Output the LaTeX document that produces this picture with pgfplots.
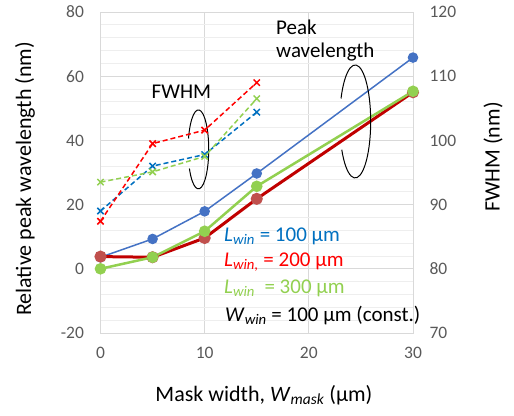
\documentclass[border=0pt]{standalone}
\usepackage{fontspec}
\setmainfont{Carlito}
\usepackage{pgfplots}
\pgfplotsset{compat=1.18}
\definecolor{tickgray}{HTML}{595959}
\definecolor{gridgray}{HTML}{D9D9D9}
\definecolor{minorgray}{HTML}{EEEEEE}
\definecolor{pblue}{HTML}{4472C4}
\definecolor{dblue}{HTML}{0070C0}
\definecolor{pred}{HTML}{C00000}
\definecolor{predm}{HTML}{C0504D}
\definecolor{dred}{HTML}{FF0000}
\definecolor{pgreen}{HTML}{92D050}
\newcommand{\sub}[1]{\textsubscript{\textit{#1}}}
\begin{document}
\begin{tikzpicture}[x=1pt,y=1pt]
\useasboundingbox (0,0) rectangle (514,415);
\pgfplotsset{
  common/.style={
    at={(100.5pt,82pt)}, anchor=south west, scale only axis,
    width=312.5pt, height=321pt,
    xmin=0, xmax=30, clip=false,
    tick style={draw=none},
    ticklabel style={font=\fontsize{17.5}{17.5}\selectfont, text=tickgray},
    /pgf/number format/assume math mode=true,
    label style={font=\fontsize{22}{22}\selectfont},
  }
}
\begin{axis}[common,
  ymin=-20, ymax=80,
  xtick={0,10,20,30}, ytick={-20,0,...,80},
  minor ytick={-16,-12,...,76},
  grid=both,
  major grid style={gridgray, line width=0.8pt},
  minor grid style={minorgray, line width=0.8pt},
  axis line style={gridgray, line width=0.8pt},
  yticklabel style={xshift=-13pt},
  xticklabel style={yshift=-11pt},
  xlabel={Mask width, \textit{W}\sub{mask} (µm)},
  xlabel style={at={(axis description cs:0.523,-0.193)}, anchor=center},
  ylabel={Relative peak wavelength (nm)},
  ylabel style={at={(axis description cs:-0.2416,0.48)}, anchor=center},
]
\addplot[pblue, line width=1.5pt, mark=*, mark size=4.5pt, mark options={fill=pblue, draw=pblue}]
  coordinates {(0,3.6) (5,9.3) (10,17.9) (15,29.7) (30,65.8)};
\addplot[pred, line width=3pt, mark=*, mark size=4.5pt, mark options={fill=predm, draw=predm}]
  coordinates {(0,3.8) (5,3.6) (10,9.6) (15,21.8) (30,55)};
\addplot[pgreen, line width=2.5pt, mark=*, mark size=4.5pt, mark options={fill=pgreen, draw=pgreen}]
  coordinates {(0,0) (5,3.6) (10,11.7) (15,25.7) (30,55.3)};

\draw[black, line width=1pt] ([shift={(209:10.3pt and 39.5pt)}]axis cs:9.4,37.2)
   arc[start angle=209, end angle=524, x radius=10.3pt, y radius=39.5pt];
\draw[black, line width=1pt] ([shift={(210:15.5pt and 56.5pt)}]axis cs:24.45,45.9)
   arc[start angle=210, end angle=516, x radius=15.5pt, y radius=56.5pt];

\node[anchor=west, inner sep=0pt, font=\fontsize{21}{21}\selectfont] at (axis cs:4.9,55.1) {FWHM};
\node[anchor=west, inner sep=0pt, font=\fontsize{21}{21}\selectfont] at (axis cs:16.85,75.3) {Peak};
\node[anchor=west, inner sep=0pt, font=\fontsize{21}{21}\selectfont] at (axis cs:16.85,67.5) {wavelength};

\node[anchor=west, inner sep=0pt, text=dblue, font=\fontsize{21}{21}\selectfont] at (axis cs:11.86,10.2) {\textit{L}\sub{win} = 100 µm};
\node[anchor=west, inner sep=0pt, text=dred, font=\fontsize{21}{21}\selectfont] at (axis cs:11.86,2.1) {\textit{L}\sub{win,} = 200 µm};
\node[anchor=west, inner sep=0pt, text=pgreen, font=\fontsize{21}{21}\selectfont] at (axis cs:11.86,-6.0) {\textit{L}\sub{win}\ \ = 300 µm};
\node[anchor=west, inner sep=0pt, text=black, font=\fontsize{21}{21}\selectfont] at (axis cs:11.95,-14.4) {\textit{W}\sub{win} = 100 µm (const.)};
\end{axis}

\begin{axis}[common,
  ymin=70, ymax=120,
  axis x line=none,
  axis y line*=right,
  axis line style={draw=none},
  ytick={70,80,...,120},
  yticklabel style={xshift=13pt},
  ylabel={FWHM (nm)},
  ylabel style={at={(axis description cs:1.256,0.548)}, anchor=center},
]
\addplot[dblue, line width=1.5pt, dash pattern=on 5pt off 3pt, mark=x, mark size=4.5pt, mark options={solid, line width=1.5pt}]
  coordinates {(0,89) (5,96) (10,97.8) (15,104.4)};
\addplot[dred, line width=1.5pt, dash pattern=on 5pt off 3pt, mark=x, mark size=4.5pt, mark options={solid, line width=1.5pt}]
  coordinates {(0,87.4) (5,99.5) (10,101.6) (15,109)};
\addplot[pgreen, line width=1.5pt, dash pattern=on 5pt off 3pt, mark=x, mark size=4.5pt, mark options={solid, line width=1.5pt}]
  coordinates {(0,93.5) (5,95.1) (10,97.5) (15,106.5)};
\end{axis}
\end{tikzpicture}
\end{document}
